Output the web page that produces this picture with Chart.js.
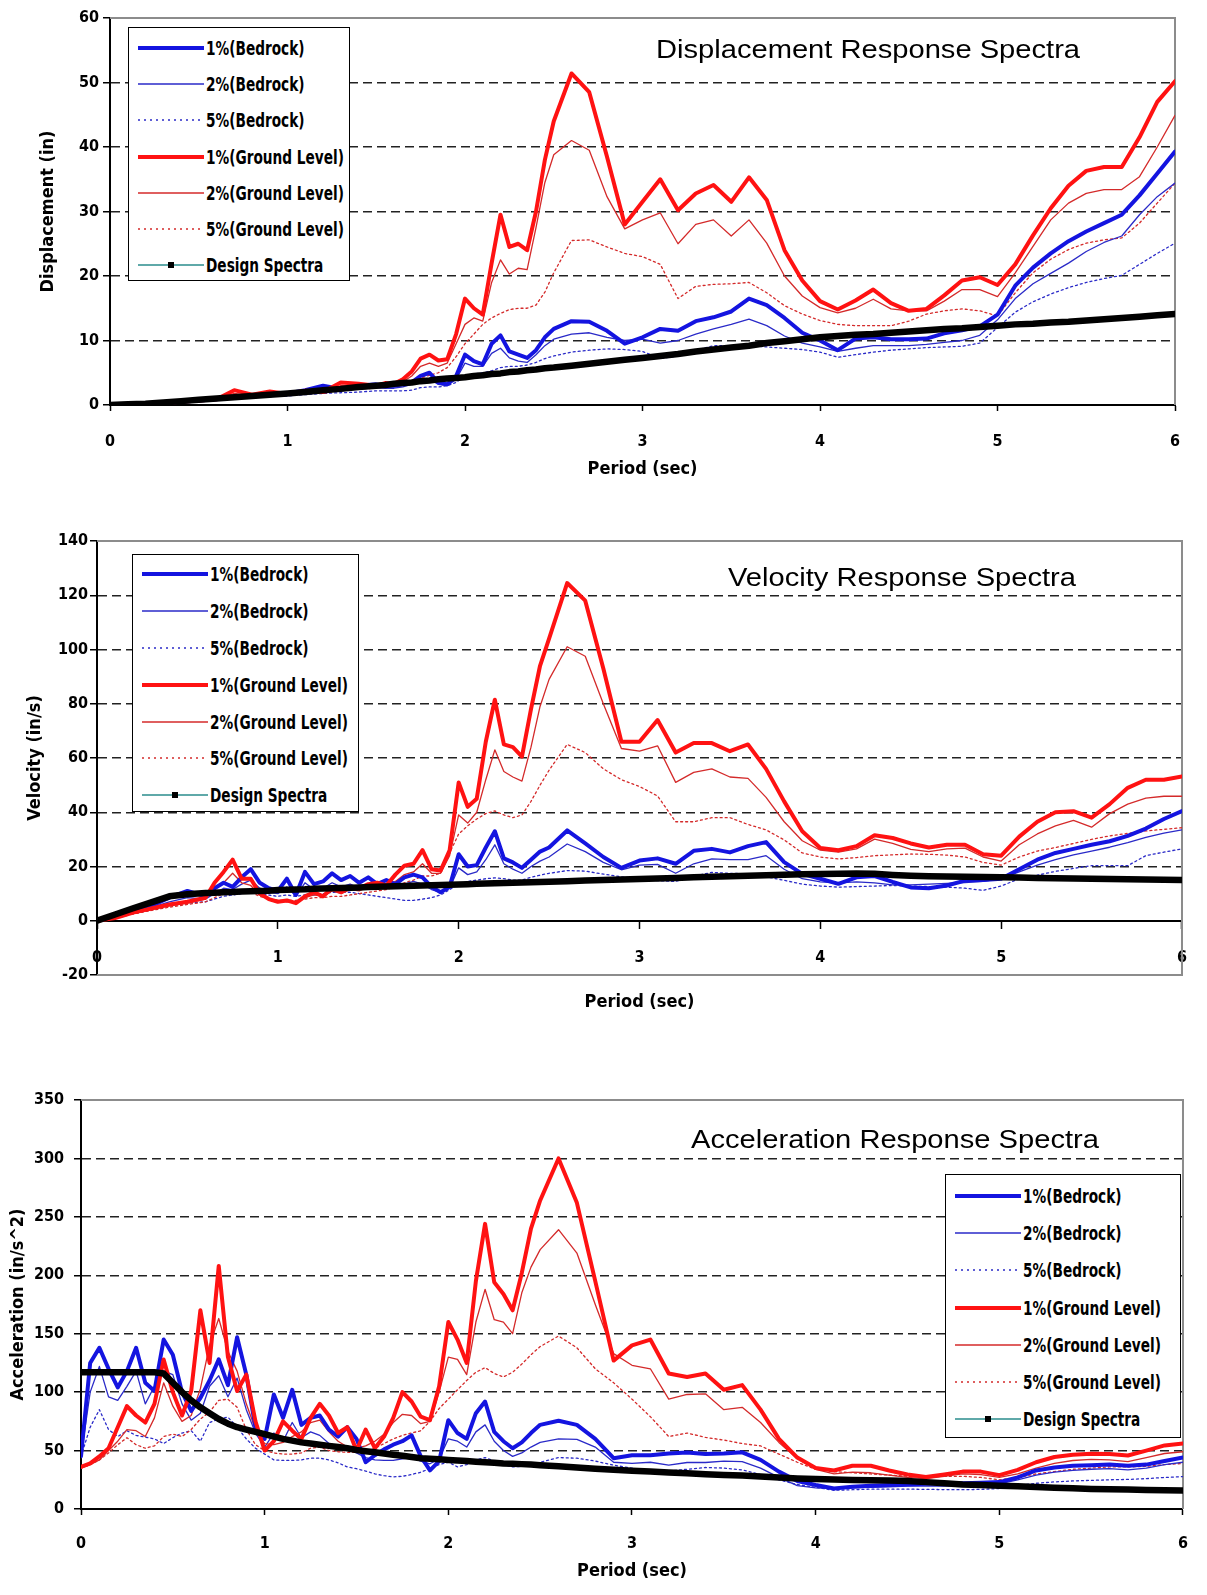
<!DOCTYPE html>
<html>
<head>
<meta charset="utf-8">
<title>Response Spectra</title>
<script src="https://cdn.jsdelivr.net/npm/chart.js@4.4.1/dist/chart.umd.min.js"></script>
<style>
  html, body { margin: 0; padding: 0; background: #fff; }
  body { width: 1207px; height: 1595px; position: relative; overflow: hidden; }
  .panel { position: absolute; left: 0; width: 1207px; }
  .panel canvas { position: absolute; left: 0; top: 0; }
  .spectra-title {
    position: absolute; white-space: nowrap; line-height: 1; color: #000;
    font-family: 'Liberation Sans', Arial, sans-serif; font-size: 26px;
    transform: translate(-50%, -50%) scaleX(1.12);
  }
  .legend { position: absolute; background: #fff; border: 1.5px solid #000; box-sizing: border-box; }
  .legend .item {
    display: flex; align-items: center; padding-left: 9px; white-space: nowrap; color: #000;
    font-family: 'Liberation Sans Narrow', 'DejaVu Sans Condensed', sans-serif; font-weight: bold; font-size: 19px;
  }
  .legend .item span { display: inline-block; transform: scaleX(0.8); transform-origin: left center; }
  .legend svg { flex: none; margin-right: 2px; }
</style>
</head>
<body>
<div class="panel" style="top:0;height:490px">
  <canvas id="dispChart" width="1207" height="490"></canvas>
  <div class="spectra-title" style="left:868px;top:49px">Displacement Response Spectra</div>
  <div class="legend" id="dispLegend" style="left:128px;top:27px;width:222px;height:254px;padding-top:2px"></div>
</div>
<div class="panel" style="top:520px;height:500px">
  <canvas id="velChart" width="1207" height="500"></canvas>
  <div class="spectra-title" style="left:902px;top:57px">Velocity Response Spectra</div>
  <div class="legend" id="velLegend" style="left:132px;top:34px;width:227px;height:258px;padding-top:1px"></div>
</div>
<div class="panel" style="top:1070px;height:525px">
  <canvas id="accChart" width="1207" height="525"></canvas>
  <div class="spectra-title" style="left:895px;top:69px">Acceleration Response Spectra</div>
  <div class="legend" id="accLegend" style="left:945px;top:104px;width:236px;height:264px;padding-top:2px"></div>
</div>
<script>
// ---- data ----
const seriesLabels = ['1%(Bedrock)', '2%(Bedrock)', '5%(Bedrock)', '1%(Ground Level)', '2%(Ground Level)', '5%(Ground Level)', 'Design Spectra'];

// displacement (in)
const dispPeriods = [0, 0.1, 0.2, 0.3, 0.4, 0.5, 0.6, 0.7, 0.8, 0.9, 1.0, 1.1, 1.2, 1.3, 1.4, 1.5,
  1.55, 1.6, 1.65, 1.7, 1.75, 1.8, 1.85, 1.9, 1.95, 2.0, 2.05, 2.1, 2.15, 2.2, 2.25, 2.3, 2.35, 2.4, 2.45, 2.5,
  2.6, 2.7, 2.8, 2.9, 3.0, 3.1, 3.2, 3.3, 3.4, 3.5, 3.6, 3.7, 3.8, 3.9, 4.0, 4.1, 4.2, 4.3, 4.4, 4.5, 4.6, 4.7, 4.8, 4.9,
  5.0, 5.1, 5.2, 5.3, 5.4, 5.5, 5.6, 5.7, 5.8, 5.9, 6.0];
const dispBedrock1 = [0, 0.1, 0.2, 0.3, 0.5, 0.7, 0.9, 1.3, 1.5, 1.6, 1.8, 2.3, 3.0, 2.5, 3.0, 3.2,
  3.0, 3.0, 3.2, 3.5, 4.5, 5.0, 3.5, 3.2, 4.5, 7.8, 6.8, 6.3, 9.5, 10.8, 8.3, 7.8, 7.3, 8.5, 10.5, 11.8,
  13.0, 12.9, 11.5, 9.5, 10.5, 11.8, 11.5, 13.0, 13.6, 14.5, 16.5, 15.5, 13.5, 11.2, 10.0, 8.5, 10.3, 10.5, 10.2, 10.2, 10.3, 11.1, 11.6, 12.2,
  14.0, 18.5, 21.3, 23.5, 25.4, 26.9, 28.2, 29.5, 32.5, 35.9, 39.3];
const dispBedrock2 = [0, 0.1, 0.2, 0.3, 0.5, 0.7, 0.9, 1.2, 1.3, 1.5, 1.6, 2.0, 2.5, 2.2, 2.5, 2.7,
  2.6, 2.6, 2.8, 3.2, 3.6, 4.0, 3.2, 3.0, 4.0, 6.5, 6.0, 6.0, 8.0, 8.8, 7.3, 6.8, 6.6, 7.8, 9.2, 10.2,
  11.0, 11.2, 10.5, 10.0, 10.2, 9.6, 10.0, 11.0, 11.8, 12.5, 13.3, 12.3, 10.7, 9.6, 9.0, 8.3, 8.8, 9.2, 9.2, 9.2, 9.4, 9.7, 10.0, 10.8,
  13.2, 16.5, 18.8, 20.4, 22.0, 23.8, 25.2, 26.2, 29.5, 32.3, 34.4];
const dispBedrock5 = [0, 0.1, 0.2, 0.3, 0.4, 0.6, 0.8, 1.0, 1.1, 1.3, 1.4, 1.6, 1.8, 1.9, 2.0, 2.2,
  2.2, 2.2, 2.2, 2.3, 2.7, 2.8, 2.8, 3.0, 3.5, 4.5, 4.8, 5.0, 5.3, 5.8, 6.0, 6.0, 6.2, 6.6, 7.2, 7.6,
  8.2, 8.5, 8.7, 8.6, 8.3, 7.2, 7.6, 8.5, 9.2, 9.2, 9.2, 9.0, 8.8, 8.6, 8.2, 7.4, 7.8, 8.2, 8.5, 8.7, 8.9, 9.0, 9.1, 9.6,
  12.0, 14.4, 16.0, 17.2, 18.2, 19.0, 19.6, 20.1, 21.8, 23.5, 25.1];
const dispGround1 = [0, 0.1, 0.2, 0.3, 0.5, 0.7, 0.9, 2.3, 1.6, 2.1, 1.7, 2.2, 2.0, 3.5, 3.3, 3.0,
  3.4, 3.3, 4.0, 5.2, 7.2, 7.8, 6.9, 7.1, 11.0, 16.5, 15.0, 14.0, 22.0, 29.5, 24.5, 25.0, 24.0, 30.0, 38.0, 44.0,
  51.4, 48.5, 38.5, 28.0, 31.5, 35.0, 30.2, 32.8, 34.1, 31.5, 35.3, 31.8, 24.0, 19.3, 16.1, 14.8, 16.2, 17.9, 15.8, 14.6, 14.9, 17.0, 19.3, 19.8,
  18.6, 21.8, 26.3, 30.5, 34.0, 36.3, 36.9, 36.9, 41.5, 47.0, 50.2];
const dispGround2 = [0, 0.1, 0.2, 0.3, 0.5, 0.7, 0.9, 1.8, 1.4, 1.8, 1.6, 2.0, 1.9, 3.0, 3.0, 2.8,
  3.0, 3.1, 3.6, 4.5, 6.0, 6.5, 6.0, 6.5, 9.5, 12.5, 13.5, 13.0, 19.0, 22.5, 20.3, 21.2, 21.0, 27.5, 34.5, 38.8,
  41.0, 39.5, 32.3, 27.3, 28.7, 29.8, 25.0, 28.0, 28.7, 26.2, 28.7, 25.1, 20.0, 16.9, 15.1, 14.3, 15.0, 16.4, 14.9, 14.6, 14.6, 16.1, 17.9, 17.9,
  16.8, 20.5, 24.6, 28.7, 31.3, 32.8, 33.4, 33.4, 35.4, 40.0, 44.9];
const dispGround5 = [0, 0.1, 0.2, 0.3, 0.5, 0.7, 0.9, 1.2, 1.3, 1.5, 1.5, 1.8, 1.8, 2.3, 2.5, 2.6,
  2.8, 3.0, 3.2, 3.6, 4.2, 4.6, 5.0, 5.8, 7.5, 9.5, 11.0, 12.5, 13.5, 14.2, 14.8, 15.0, 15.0, 15.5, 17.5, 20.5,
  25.5, 25.6, 24.5, 23.5, 23.0, 21.8, 16.5, 18.4, 18.7, 18.8, 19.0, 17.4, 15.4, 14.1, 13.1, 12.5, 12.3, 12.3, 12.3, 13.0, 14.1, 14.6, 14.9, 14.6,
  13.8, 17.4, 20.5, 22.6, 24.1, 25.1, 25.6, 25.9, 28.2, 31.3, 34.4];
const dispDesign = [0, 0.1, 0.2, 0.4, 0.6, 0.8, 1.0, 1.2, 1.4, 1.6, 1.8, 2.0, 2.3, 2.5, 2.8, 3.0,
  3.1, 3.3, 3.4, 3.5, 3.7, 3.8, 4.0, 4.1, 4.2, 4.3, 4.5, 4.6, 4.8, 4.9, 5.1, 5.2, 5.4, 5.5, 5.7, 5.8,
  6.1, 6.4, 6.7, 7.0, 7.3, 7.6, 7.9, 8.3, 8.6, 8.9, 9.2, 9.6, 9.9, 10.2, 10.5, 10.7, 10.9, 11.0, 11.2, 11.4, 11.6, 11.8, 11.9, 12.1,
  12.3, 12.5, 12.6, 12.8, 12.9, 13.1, 13.3, 13.5, 13.7, 13.9, 14.1];

// velocity (in/s)
const velPeriods = [0, 0.1, 0.2, 0.3, 0.4, 0.5, 0.6,
  0.65, 0.7, 0.75, 0.8, 0.85, 0.9, 0.95, 1.0,
  1.05, 1.1, 1.15, 1.2, 1.25, 1.3, 1.35, 1.4, 1.45, 1.5,
  1.55, 1.6, 1.65, 1.7, 1.75, 1.8, 1.85, 1.9, 1.95, 2.0,
  2.05, 2.1, 2.15, 2.2, 2.25, 2.3, 2.35, 2.4, 2.45, 2.5,
  2.6, 2.7, 2.8, 2.9, 3.0, 3.1, 3.2, 3.3, 3.4, 3.5, 3.6, 3.7, 3.8, 3.9, 4.0, 4.1, 4.2, 4.3, 4.4, 4.5, 4.6, 4.7, 4.8, 4.9,
  5.0, 5.1, 5.2, 5.3, 5.4, 5.5, 5.6, 5.7, 5.8, 5.9, 6.0];
const velBedrock1 = [0, 1.5, 3.5, 5.5, 8.5, 11.0, 9.0,
  12.0, 14.0, 12.5, 16.0, 19.0, 14.0, 12.0, 11.0,
  15.5, 9.5, 18.0, 13.5, 14.5, 17.5, 15.0, 16.5, 14.0, 16.0,
  13.5, 15.0, 13.5, 16.0, 17.0, 16.0, 12.5, 10.5, 12.5, 24.5,
  20.0, 20.5, 27.0, 33.0, 23.0, 21.5, 19.5, 22.5, 25.5, 27.0,
  33.3, 28.5, 23.5, 19.5, 22.2, 23.0, 21.0, 25.8, 26.5, 25.2, 27.5, 29.0, 21.6, 17.3, 15.5, 13.6, 16.0, 16.5, 14.3, 12.3, 12.0, 13.0, 14.8, 15.0,
  15.5, 19.0, 22.5, 25.0, 26.5, 28.0, 29.3, 31.3, 34.0, 37.5, 40.4];
const velBedrock2 = [0, 1.2, 3.0, 4.8, 7.0, 8.5, 8.0,
  10.0, 12.0, 11.5, 13.5, 15.0, 12.0, 10.5, 10.0,
  12.5, 9.0, 14.0, 11.5, 12.0, 14.0, 12.5, 13.5, 12.0, 13.0,
  12.0, 12.5, 12.0, 13.5, 14.5, 13.5, 11.5, 10.5, 12.0, 19.5,
  17.0, 18.0, 22.5, 28.0, 21.0, 19.0, 17.5, 20.0, 22.0, 23.5,
  28.3, 25.5, 21.5, 18.8, 20.5, 20.8, 17.5, 21.0, 22.8, 22.5, 22.5, 24.0, 19.0, 15.5, 14.3, 14.0, 14.3, 14.0, 13.2, 13.2, 13.5, 13.8, 14.1, 14.5,
  15.5, 18.0, 20.5, 22.5, 24.3, 25.7, 27.1, 28.8, 30.7, 32.3, 33.5];
const velBedrock5 = [0, 1.0, 2.5, 4.0, 5.5, 6.5, 7.0,
  8.0, 9.0, 9.5, 10.0, 10.5, 10.0, 9.5, 9.0,
  9.5, 9.0, 9.5, 9.5, 10.0, 10.5, 10.5, 10.5, 10.0, 9.5,
  9.0, 8.5, 8.0, 7.5, 7.5, 8.0, 8.5, 9.5, 11.5, 13.5,
  14.5, 15.0, 15.5, 15.8, 15.5, 15.0, 15.0, 16.0, 16.8, 17.5,
  18.5, 18.3, 17.2, 16.2, 15.5, 14.8, 14.5, 16.5, 17.8, 17.5, 17.3, 16.2, 14.9, 13.5, 12.8, 12.4, 12.6, 12.8, 13.0, 12.8, 12.6, 12.4, 12.0, 11.2,
  12.8, 15.5, 16.8, 18.2, 19.3, 20.3, 20.3, 20.3, 24.0, 25.3, 26.5];
const velGround1 = [0, 1.0, 3.0, 4.5, 6.0, 7.0, 8.5,
  14.0, 18.0, 22.5, 15.5, 15.5, 10.0, 8.0, 7.0,
  7.5, 6.5, 9.0, 10.5, 9.0, 12.0, 10.5, 12.5, 12.0, 13.5,
  14.0, 13.0, 17.0, 20.3, 21.0, 26.0, 19.0, 18.5, 26.0, 51.0,
  42.0, 45.0, 66.0, 81.5, 65.0, 64.0, 60.5, 78.0, 94.0, 104.0,
  124.5, 118.0, 93.0, 66.0, 66.0, 74.0, 62.0, 65.5, 65.5, 62.5, 65.0, 56.0, 44.0, 33.0, 26.8, 26.0, 27.5, 31.5, 30.5, 28.5, 27.0, 28.0, 28.0, 24.5,
  24.0, 31.0, 36.5, 40.0, 40.4, 38.0, 43.0, 49.0, 52.0, 52.0, 53.2];
const velGround2 = [0, 1.0, 2.8, 4.2, 5.5, 6.5, 8.0,
  12.0, 14.0, 17.5, 14.0, 13.0, 9.5, 8.0, 7.5,
  7.0, 7.0, 8.5, 9.5, 9.0, 11.0, 10.0, 11.5, 11.0, 12.5,
  13.0, 12.5, 14.5, 17.0, 18.0, 21.0, 17.5, 17.5, 24.0, 39.0,
  36.0, 40.0, 52.0, 63.0, 55.0, 53.0, 51.5, 64.0, 79.0, 89.0,
  101.0, 97.5, 80.0, 63.5, 62.5, 64.5, 51.0, 54.7, 56.0, 53.0, 52.5, 45.5, 36.5, 29.5, 26.0, 25.3, 26.5, 30.1, 28.5, 26.3, 25.5, 26.5, 26.8, 23.5,
  22.0, 28.0, 32.0, 35.0, 37.0, 34.5, 39.5, 43.0, 45.2, 45.9, 45.9];
const velGround5 = [0, 0.8, 2.5, 3.8, 5.0, 6.0, 7.0,
  8.5, 10.0, 12.0, 11.0, 10.5, 9.0, 8.0, 7.5,
  7.5, 7.5, 8.0, 8.5, 8.5, 9.0, 9.0, 9.5, 10.0, 10.5,
  11.0, 11.5, 12.5, 14.0, 15.0, 16.5, 16.5, 17.5, 25.0, 32.0,
  35.0, 37.5, 39.5, 40.5, 39.0, 38.0, 39.0, 44.0, 50.0, 55.5,
  65.0, 62.0, 56.0, 52.0, 49.5, 46.0, 36.5, 36.5, 38.0, 38.0, 35.5, 33.5, 29.8, 25.0, 23.5, 22.8, 23.3, 24.0, 24.3, 24.6, 24.5, 24.2, 23.5, 21.5,
  20.5, 23.5, 25.7, 27.0, 28.5, 30.0, 31.3, 32.2, 33.1, 33.7, 34.3];
const velDesign = [0, 2.3, 4.6, 6.8, 9.0, 9.8, 10.2,
  10.3, 10.5, 10.6, 10.8, 10.9, 11.0, 11.1, 11.3,
  11.4, 11.5, 11.6, 11.8, 11.9, 12.0, 12.1, 12.2, 12.3, 12.4,
  12.5, 12.6, 12.7, 12.8, 12.9, 13.0, 13.1, 13.2, 13.3, 13.4,
  13.5, 13.6, 13.7, 13.8, 13.9, 14.0, 14.1, 14.2, 14.3, 14.4,
  14.6, 14.8, 15.0, 15.2, 15.4, 15.6, 15.8, 16.0, 16.2, 16.4, 16.6, 16.8, 17.0, 17.1, 17.2, 17.3, 17.4, 17.3, 16.9, 16.6, 16.4, 16.3, 16.2, 16.1,
  16.0, 15.9, 15.8, 15.7, 15.6, 15.5, 15.4, 15.3, 15.2, 15.1, 15.0];

// acceleration (in/s^2)
const accPeriods = [0, 0.05, 0.1, 0.15, 0.2, 0.25, 0.3, 0.35, 0.4, 0.45, 0.5, 0.55, 0.6, 0.65, 0.7, 0.75, 0.8, 0.85, 0.9, 0.95, 1.0,
  1.05, 1.1, 1.15, 1.2, 1.25, 1.3, 1.35, 1.4, 1.45, 1.5, 1.55, 1.6, 1.65, 1.7, 1.75, 1.8, 1.85, 1.9, 1.95, 2.0,
  2.05, 2.1, 2.15, 2.2, 2.25, 2.3, 2.35, 2.4, 2.45, 2.5,
  2.6, 2.7, 2.8, 2.9, 3.0, 3.1, 3.2, 3.3, 3.4, 3.5, 3.6, 3.7, 3.8, 3.9, 4.0, 4.1, 4.2, 4.3, 4.4, 4.5, 4.6, 4.7, 4.8, 4.9,
  5.0, 5.1, 5.2, 5.3, 5.4, 5.5, 5.6, 5.7, 5.8, 5.9, 6.0];
const accBedrock1 = [45, 125, 138, 120, 104, 118, 138, 108, 101, 145, 132, 100, 84, 95, 110, 128, 106, 147, 115, 70, 60,
  98, 78, 102, 72, 78, 80, 68, 62, 70, 60, 40, 46, 51, 55, 58, 63, 45, 33, 41, 76,
  65, 60, 82, 92, 66, 58, 52, 57, 65, 72,
  75.5, 72, 60, 43.5, 46, 46, 47.5, 48.4, 47, 47.5, 48.5, 42, 32, 24, 20.5, 17.5, 19, 20, 20.5, 21, 21.5, 22, 22, 22.5,
  23, 27, 33, 35.5, 37, 37.5, 38, 37, 38, 41, 44];
const accBedrock2 = [45, 100, 122, 96, 93, 105, 118, 90, 105, 118, 115, 90, 76, 82, 105, 114, 96, 112, 85, 65, 53,
  65, 58, 74, 61, 66, 63, 56, 54, 53, 48, 44, 42, 41.6, 41.6, 43, 44, 41, 38.7, 43, 60,
  58, 53, 66, 72, 58, 50, 45, 48, 53, 57,
  60, 59.5, 53, 40, 39, 40, 37.5, 39.8, 39.8, 41, 40.5, 35, 27, 20, 18, 17.5, 18, 18.5, 19, 19.5, 19.5, 19.5, 20, 20.5,
  21.5, 25, 29, 31.5, 33, 34, 34.5, 33.5, 35, 38, 40];
const accBedrock5 = [45, 70, 85, 68, 62, 67, 63, 61.5, 60, 56, 61, 65, 67, 58, 74, 77, 78.6, 70, 60, 52, 47,
  42, 41.6, 41.6, 42, 43.5, 43.5, 42, 39.5, 36, 34.5, 32.5, 30, 28.5, 27.5, 28, 29.5, 31.5, 34.5, 38, 40,
  36, 38, 42, 44, 41, 38, 36, 36.5, 38, 40,
  44, 43.5, 41, 37.5, 35, 31, 32.5, 34, 35.5, 35, 33.5, 29.5, 25, 21, 18.5, 16, 16.5, 17, 17, 17, 16.8, 16.6, 16.5, 16.8,
  17.5, 20, 22, 23.2, 24, 24.5, 25, 25.3, 26, 27, 27.7];
const accGround1 = [36, 39, 45, 52, 70, 88, 80, 74, 90, 128, 100, 80, 101, 170, 125, 208, 130, 101, 115, 75, 50,
  58, 75, 67, 60, 78, 90, 80, 65, 70, 50, 68, 52, 62, 78, 100, 92, 79, 76, 105, 160,
  145, 125, 195, 244, 194, 184, 170, 202, 240, 264,
  300, 262, 195, 127, 140, 145, 116, 113, 116, 102, 106, 85, 60, 44, 35, 33, 37, 37, 33, 29.5, 27.3, 29.5, 32, 32,
  29, 33.5, 40, 44.5, 46.5, 47.3, 47, 45.8, 50, 54.4, 56];
const accGround2 = [35, 38, 42, 50, 58, 68, 67, 62, 78, 108, 88, 75, 80, 103, 140, 163, 135, 118, 90, 68, 56,
  55, 57, 62, 66, 74, 76, 66, 58, 53, 52, 54, 58, 64, 74, 81, 80, 73, 75, 100, 130,
  128, 115, 160, 188, 162, 160, 150, 185, 207, 222,
  239, 219, 175, 133, 123, 120, 94, 98, 98.6, 85, 87, 74, 57, 43, 34, 30, 31.5, 31, 29, 27, 26, 28, 30, 29.5,
  27, 30, 35, 39, 41.5, 42.5, 42, 40.5, 44, 47.5, 49];
const accGround5 = [35, 38, 42, 48, 55, 61, 55, 52, 54, 62, 64, 62, 68, 77, 83, 93, 94, 87, 68, 55, 50,
  48, 47, 47, 48, 52, 53, 50, 49, 48.5, 48.5, 49, 52, 56, 60, 63, 65, 67, 75, 86, 94,
  102, 110, 117, 121, 116, 113, 117, 124, 132, 139,
  148, 138, 120, 108, 94, 79, 62, 65, 61.3, 59, 56, 54, 47, 40, 34, 32, 31, 30, 29, 28, 27.5, 28, 28, 27,
  25, 27, 30, 32, 34, 35, 36, 36, 36.5, 38, 39];
const accDesign = [117, 117, 117, 117, 117, 117, 117, 117, 117, 116, 108, 100, 93, 87, 82, 77, 73, 70, 68, 66, 64,
  62, 60, 58.5, 57, 56, 55, 54, 53, 52, 50.5, 49.5, 48.5, 47.5, 46.5, 45.5, 44.5, 43.5, 43, 42.5, 42,
  41.5, 41, 40.5, 40, 39.5, 39, 38.7, 38.4, 38, 37.5,
  36.5, 35.5, 34.5, 33.5, 32.7, 32, 31.3, 30.6, 29.8, 29.2, 28.6, 27.8, 27, 26.2, 25.6, 25.2, 24.9, 24.6, 24.4, 24, 23, 22, 21, 20.5,
  20, 19.4, 18.8, 18.2, 17.7, 17.2, 16.9, 16.6, 16.3, 16, 15.8];

// ---- styles ----
const narrow = "'Liberation Sans Narrow', 'DejaVu Sans Condensed', sans-serif";
const seriesStyles = [
  { color: '#1414e0', width: 4, dash: [], order: 2 },
  { color: '#2a2ac8', width: 1.3, dash: [], order: 4 },
  { color: '#2a2ac8', width: 1.3, dash: [2, 3], order: 6 },
  { color: '#ff1212', width: 4, dash: [], order: 1 },
  { color: '#d42a2a', width: 1.3, dash: [], order: 3 },
  { color: '#d42a2a', width: 1.3, dash: [2, 3], order: 5 },
  { color: '#000000', width: 6.5, dash: [], order: 0, legendColor: '#2a8c8c', legendWidth: 1.3, marker: true }
];

// legend drawn as html so it can sit inside the plot like the original
const htmlLegend = {
  id: 'htmlLegend',
  afterUpdate(chart, args, opts) {
    const box = document.getElementById(opts.containerID);
    box.innerHTML = '';
    chart.data.datasets.forEach(ds => {
      const row = document.createElement('div');
      row.className = 'item';
      row.style.height = opts.rowHeight + 'px';
      const color = ds.legendColor || ds.borderColor;
      const width = ds.legendWidth || ds.borderWidth;
      const dash = ds.borderDash.length ? 'stroke-dasharray="2 4"' : '';
      let svg = '<svg width="66" height="12"><line x1="0" y1="6" x2="66" y2="6" stroke="' + color +
        '" stroke-width="' + width + '" ' + dash + '/>';
      if (ds.legendMarker) svg += '<rect x="30" y="3" width="6" height="6" fill="#000"/>';
      row.innerHTML = svg + '</svg><span></span>';
      row.lastChild.textContent = ds.label;
      box.appendChild(row);
    });
  }
};

// grey plot frame (top / right, and bottom when the x axis sits at zero)
const plotFrame = {
  id: 'plotFrame',
  beforeDatasetsDraw(chart, args, opts) {
    const { ctx, chartArea: { left, right, top, bottom } } = chart;
    ctx.save();
    ctx.strokeStyle = '#8c8c8c';
    ctx.lineWidth = 2;
    ctx.beginPath();
    ctx.moveTo(left, top);
    ctx.lineTo(right, top);
    ctx.lineTo(right, bottom);
    if (opts.closeBottom) ctx.lineTo(left, bottom);
    ctx.stroke();
    ctx.restore();
  }
};

function makeChart(canvasId, periods, series, g) {
  const datasets = series.map((values, i) => {
    const s = seriesStyles[i];
    return {
      label: seriesLabels[i],
      data: periods.map((p, k) => ({ x: p, y: values[k] })),
      borderColor: s.color,
      borderWidth: s.width,
      borderDash: s.dash,
      borderJoinStyle: 'round',
      borderCapStyle: 'round',
      order: s.order,
      legendColor: s.legendColor,
      legendWidth: s.legendWidth,
      legendMarker: s.marker
    };
  });
  const tickFont = { family: narrow, size: 16, weight: 'bold' };
  const titleFont = { family: narrow, size: 18, weight: 'bold' };
  return new Chart(document.getElementById(canvasId), {
    type: 'line',
    data: { datasets },
    plugins: [htmlLegend, plotFrame],
    options: {
      responsive: false,
      animation: false,
      devicePixelRatio: 1,
      layout: { padding: { left: 0, top: g.top, right: g.right, bottom: g.bottom } },
      elements: { point: { radius: 0 }, line: { tension: 0 } },
      plugins: {
        legend: { display: false },
        tooltip: { enabled: false },
        htmlLegend: { containerID: g.legendId, rowHeight: g.rowHeight },
        plotFrame: { closeBottom: g.xAtZero }
      },
      scales: {
        x: {
          type: 'linear',
          min: 0,
          max: 6,
          position: g.xAtZero ? { y: 0 } : 'bottom',
          ticks: { stepSize: 1, padding: g.xTickPad, color: '#000', font: tickFont, maxRotation: 0 },
          grid: { drawOnChartArea: false, tickLength: g.xTickLen, tickColor: '#000', tickWidth: 1.5 },
          border: { color: '#000', width: 2 },
          title: { display: true, text: 'Period (sec)', color: '#000', font: titleFont,
            padding: { top: 0, bottom: g.xTitlePad } },
          afterFit: s => { s.height = g.xHeight; }
        },
        y: {
          type: 'linear',
          min: g.yMin,
          max: g.yMax,
          ticks: { stepSize: g.yStep, padding: g.yTickPad, color: '#000', font: tickFont },
          grid: {
            color: c => (c.tick && c.tick.value > g.yMin && c.tick.value < g.yMax && c.tick.value !== 0) ? '#222' : 'rgba(0,0,0,0)',
            lineWidth: 1.5,
            tickLength: 7,
            tickColor: '#000',
            tickWidth: 1.5
          },
          border: { color: '#000', width: 2, dash: [9, 5] },
          title: { display: true, text: g.yTitle, color: '#000', font: titleFont,
            padding: { top: g.yTitlePad, bottom: 0 } },
          afterFit: s => { s.width = g.left; }
        }
      }
    }
  });
}

makeChart('dispChart', dispPeriods,
  [dispBedrock1, dispBedrock2, dispBedrock5, dispGround1, dispGround2, dispGround5, dispDesign], {
    legendId: 'dispLegend', rowHeight: 36.2,
    left: 110, top: 18, right: 32, bottom: 0, xHeight: 85,
    xTickLen: 6, xTickPad: 21, xTitlePad: 9.4,
    yMin: 0, yMax: 60, yStep: 10, yTickPad: 4, yTitle: 'Displacement (in)', yTitlePad: 38
  });

makeChart('velChart', velPeriods,
  [velBedrock1, velBedrock2, velBedrock5, velGround1, velGround2, velGround5, velDesign], {
    legendId: 'velLegend', rowHeight: 36.8, xAtZero: true,
    left: 97, top: 21, right: 11, bottom: 45, xHeight: 92.8,
    xTickLen: 7, xTickPad: 20, xTitlePad: 0,
    yMin: -20, yMax: 140, yStep: 20, yTickPad: 2, yTitle: 'Velocity (in/s)', yTitlePad: 24.8
  });

makeChart('accChart', accPeriods,
  [accBedrock1, accBedrock2, accBedrock5, accGround1, accGround2, accGround5, accDesign], {
    legendId: 'accLegend', rowHeight: 37.3,
    left: 81, top: 30, right: 14, bottom: 0, xHeight: 86,
    xTickLen: 6, xTickPad: 19, xTitlePad: 13.2,
    yMin: 0, yMax: 350, yStep: 50, yTickPad: 10, yTitle: 'Acceleration (in/s^2)', yTitlePad: 7.5
  });
</script>
</body>
</html>
